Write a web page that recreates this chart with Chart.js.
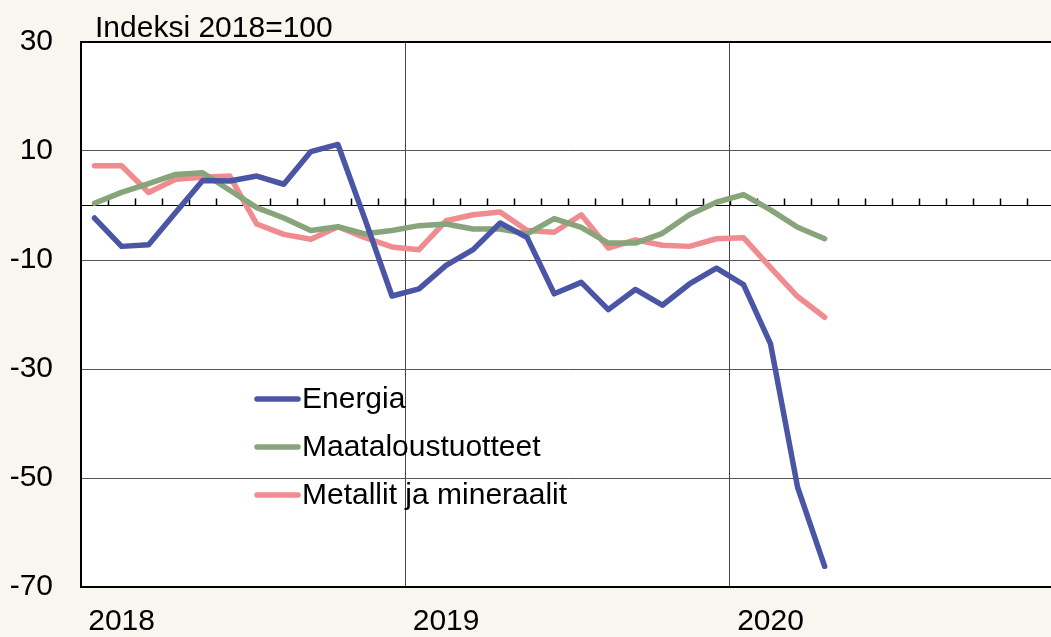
<!DOCTYPE html>
<html>
<head>
<meta charset="utf-8">
<script src="https://cdn.jsdelivr.net/npm/chart.js@4/dist/chart.umd.min.js"></script>
<style>
    html, body { margin: 0; padding: 0; background: #f9f5ef; overflow: hidden; }
    #wrap { width: 1051px; height: 637px; overflow: hidden; }
</style>
</head>
<body>
<div id="wrap"><canvas id="grafico" width="1058" height="637"></canvas></div>
<script>
// Kuukaudet 2018-2020
const kuukaudet = [
    "2018-01", "2018-02", "2018-03", "2018-04", "2018-05", "2018-06", "2018-07", "2018-08", "2018-09", "2018-10", "2018-11", "2018-12",
    "2019-01", "2019-02", "2019-03", "2019-04", "2019-05", "2019-06", "2019-07", "2019-08", "2019-09", "2019-10", "2019-11", "2019-12",
    "2020-01", "2020-02", "2020-03", "2020-04", "2020-05", "2020-06", "2020-07", "2020-08", "2020-09", "2020-10", "2020-11", "2020-12"
];
const vuodet = ["2018", "2019", "2020"];
const yTicks = [30, 10, -10, -30, -50, -70];
const otsikko = "Indeksi 2018=100";

// Sarjat (indeksi 2018=100, poikkeama)
const energia = [-2.3, -7.5, -7.2, -1.3, 4.6, 4.5, 5.4, 3.9, 9.9, 11.2, -2.5, -16.6, -15.3, -11.0, -8.1, -3.2, -5.9, -16.2, -14.1, -19.1, -15.4, -18.3, -14.4, -11.5, -14.5, -25.4, -51.7, -66.2];
const maatalous = [0.4, 2.4, 4.0, 5.7, 6.0, 2.8, -0.4, -2.3, -4.6, -3.9, -5.2, -4.6, -3.7, -3.4, -4.3, -4.3, -5.2, -2.4, -4.0, -6.9, -6.9, -5.1, -1.7, 0.6, 2.0, -0.8, -4.0, -6.1];
const metallit = [7.3, 7.3, 2.4, 4.8, 5.2, 5.4, -3.4, -5.3, -6.2, -3.9, -5.9, -7.6, -8.1, -2.8, -1.7, -1.2, -4.6, -4.9, -1.7, -7.8, -6.3, -7.3, -7.5, -6.1, -5.9, -11.4, -16.7, -20.5];

const FONT = "'Liberation Sans', Arial, sans-serif";
Chart.defaults.font.family = FONT;
Chart.defaults.color = "#000";

// Tausta, otsikko, kuukausiviivat ja selite
const koristeet = {
    id: "koristeet",
    beforeDraw(chart) {
        const c = chart.ctx, a = chart.chartArea;
        c.save();
        c.fillStyle = "#f9f5ef";
        c.fillRect(0, 0, chart.width, chart.height);
        c.fillStyle = "#fff";
        c.fillRect(a.left, a.top, a.right - a.left, a.bottom - a.top);
        c.fillStyle = "#000";
        c.font = "30px " + FONT;
        c.textBaseline = "alphabetic";
        c.fillText(otsikko, a.left + 14, a.top - 5);
        c.restore();
    },
    beforeDatasetsDraw(chart) {
        const c = chart.ctx, x = chart.scales.x, y = chart.scales.y;
        const y0 = y.getPixelForValue(0);
        c.save();
        c.strokeStyle = "#000";
        c.lineWidth = 1.5;
        c.beginPath();
        for (let i = 1; i < kuukaudet.length; i++) {
            const xp = Math.round((x.getPixelForValue(i - 1) + x.getPixelForValue(i)) / 2) + 0.5;
            c.moveTo(xp, y0);
            c.lineTo(xp, y0 - 7);
        }
        c.stroke();
        c.restore();
    },
    afterDatasetsDraw(chart) {
        const c = chart.ctx, a = chart.chartArea;
        const lx = a.left + 176;
        c.save();
        c.font = "30px " + FONT;
        c.textBaseline = "middle";
        chart.data.datasets.forEach((ds, i) => {
            const ly = 399 + i * 48;
            c.strokeStyle = ds.borderColor;
            c.lineWidth = 5.5;
            c.lineCap = "round";
            c.beginPath();
            c.moveTo(lx, ly);
            c.lineTo(lx + 41, ly);
            c.stroke();
            c.fillStyle = "#000";
            c.fillText(ds.label, lx + 45, ly + 1);
        });
        c.restore();
    }
};

function sarja(nimi, data, vari) {
    return {
        label: nimi,
        data: data,
        borderColor: vari,
        borderWidth: 5.5,
        pointRadius: 0,
        tension: 0,
        fill: false,
        borderCapStyle: "round",
        borderJoinStyle: "round"
    };
}

const ctx = document.getElementById("grafico").getContext("2d");
window.myChart = new Chart(ctx, {
    type: "line",
    data: {
        labels: kuukaudet,
        datasets: [
            sarja("Energia", energia, "#4b55a5"),
            sarja("Maataloustuotteet", maatalous, "#87a47a"),
            sarja("Metallit ja mineraalit", metallit, "#f08b90")
        ]
    },
    options: {
        responsive: false,
        animation: false,
        devicePixelRatio: 1,
        layout: { padding: { top: 42, right: 2, left: 0, bottom: 0 } },
        plugins: {
            legend: { display: false },
            tooltip: { enabled: false }
        },
        scales: {
            x: {
                type: "category",
                offset: true,
                afterFit: (s) => { s.height = 50; },
                grid: {
                    offset: true,
                    drawTicks: false,
                    lineWidth: 1,
                    color: (c) => (c.index === 12 || c.index === 24) ? "#444" : "rgba(0,0,0,0)"
                },
                border: { color: "#000", width: 2 },
                ticks: {
                    autoSkip: false,
                    maxRotation: 0,
                    minRotation: 0,
                    padding: 17,
                    font: { size: 30 },
                    callback: (v, i) => (i % 12 === 1) ? vuodet[Math.floor(i / 12)] : ""
                }
            },
            y: {
                min: -70,
                max: 30,
                afterFit: (s) => {
                    s.width = 81;
                    s.paddingTop = 0;
                    s.paddingBottom = 0;
                },
                afterBuildTicks: (s) => {
                    s.ticks = yTicks.concat([0]).map((v) => ({ value: v }));
                },
                grid: {
                    drawTicks: false,
                    color: (c) => (c.tick && (c.tick.value === 0 || c.tick.value === 30)) ? "#000" : "#555",
                    lineWidth: (c) => (c.tick && c.tick.value === 30) ? 2 : 1
                },
                border: { color: "#000", width: 2 },
                ticks: {
                    padding: 28,
                    font: { size: 30 },
                    callback: (v) => v === 0 ? "" : String(v)
                }
            }
        }
    },
    plugins: [koristeet]
});
</script>
</body>
</html>
